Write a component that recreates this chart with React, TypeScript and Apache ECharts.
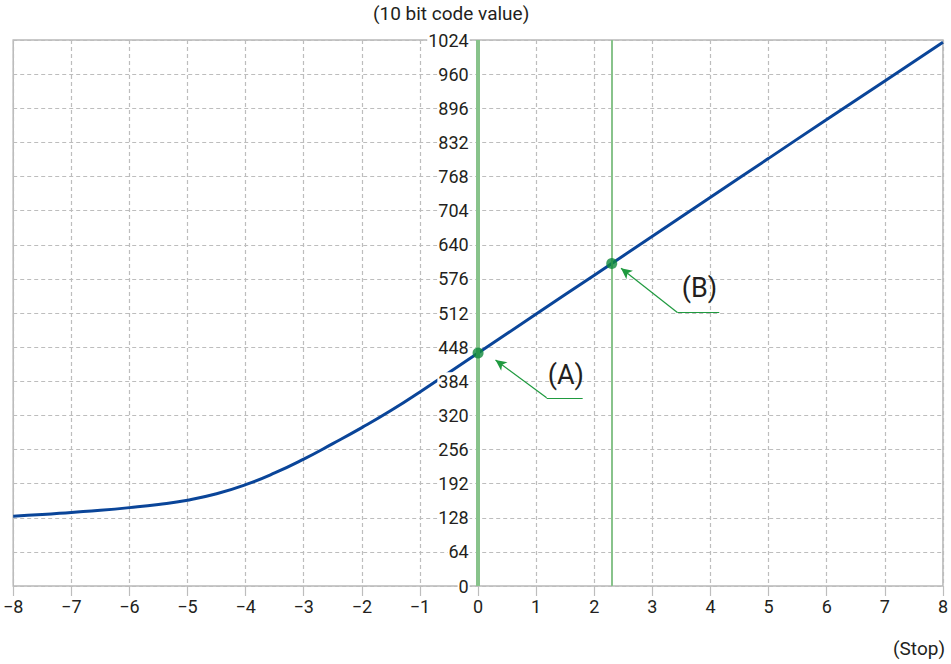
import React, { useEffect, useRef } from "react";
import * as echarts from "echarts";

// Exposure in stops relative to 18% grey
const stops = [-8, -7.5, -7, -6.5, -6, -5.5, -5, -4.5, -4, -3.5, -3, -2.5, -2, -1.5, -1, 0, 1, 2, 3, 4, 5, 6, 7, 8];
// 10-bit code values
const codeValues = [131, 134, 138, 142, 147, 153, 161, 173, 190, 212, 238, 267, 297, 329, 364, 437, 510, 583, 656, 729, 802, 875, 947, 1020];

// Highlighted points (A) and (B)
const markedStops = [0, 2.3];
const markedCodes = [437, 605];
const markedNames = ["(A)", "(B)"];

// Annotation anchors in data space: [labelX, labelY, elbowStartX, elbowEndX, elbowY, tipX, tipY]
const annotA = [1.51, 396, 1.8, 1.18, 353, 0.3, 424];
const annotB = [3.81, 559, 4.15, 3.43, 513, 2.46, 596];

const xTicks = { min: -8, max: 8, interval: 1 };
const yTicks = { min: 0, max: 1024, interval: 64 };

const FONT = "Roboto, 'Noto Sans', sans-serif";
const TEXT = "#231f20";
const GRID_GRAY = "#bdbdbd";
const BLUE = "#0a4599";
const LIGHT_GREEN = "#88c38b";
const DARK_GREEN = "#10893c";
const ARROW_GREEN = "#1f9a3f";

const GRID_LEFT = 10;
const GRID_RIGHT = 6;

export default function App() {
  const ref = useRef<HTMLDivElement>(null);

  useEffect(() => {
    if (!ref.current) return;
    const chart = echarts.init(ref.current, undefined, { renderer: "svg" });

    const curve = stops.map((s, i) => [s, codeValues[i]]);
    const points = markedStops.map((s, i) => [s, markedCodes[i]]);
    const annots = [annotA, annotB];

    const arrowLines: any[] = [];
    const labelPoints: any[] = [];
    annots.forEach((a, i) => {
      arrowLines.push([
        { coord: [a[2], a[4]], symbol: "none" },
        { coord: [a[3], a[4]], symbol: "none" },
      ]);
      arrowLines.push([
        { coord: [a[3], a[4]], symbol: "none" },
        { coord: [a[5], a[6]], symbol: "arrow" },
      ]);
      labelPoints.push({
        coord: [a[0], a[1]],
        label: { formatter: markedNames[i] },
      });
    });

    // place the labelled y axis at stop 0
    const plotWidth = 951 - GRID_LEFT - GRID_RIGHT;
    const zeroOffset = -((0 - xTicks.min) / (xTicks.max - xTicks.min)) * plotWidth;

    chart.setOption({
      animation: false,
      backgroundColor: "#ffffff",
      textStyle: { fontFamily: FONT },
      title: [
        {
          text: "(10 bit code value)",
          left: 373,
          top: 4,
          padding: 0,
          textStyle: { fontSize: 19, fontWeight: "normal", color: TEXT, fontFamily: FONT },
        },
        {
          text: "(Stop)",
          right: 6,
          top: 639,
          padding: 0,
          textStyle: { fontSize: 19, fontWeight: "normal", color: TEXT, fontFamily: FONT },
        },
      ],
      grid: {
        left: GRID_LEFT,
        right: GRID_RIGHT,
        top: 40,
        bottom: 78,
        show: true,
        borderColor: "#b8b8b8",
        borderWidth: 1.5,
      },
      xAxis: {
        type: "value",
        min: xTicks.min,
        max: xTicks.max,
        interval: xTicks.interval,
        axisLine: { show: false, onZero: false },
        axisTick: { show: true, length: 10, lineStyle: { color: GRID_GRAY, width: 1.2 } },
        axisLabel: {
          margin: 11,
          fontSize: 18,
          color: TEXT,
          fontFamily: FONT,
          formatter: (v: number) => String(v).replace("-", "\u2212"),
        },
        splitLine: { show: true, lineStyle: { color: GRID_GRAY, type: [4, 3], width: 1.2 } },
      },
      yAxis: [
        {
          type: "value",
          min: yTicks.min,
          max: yTicks.max,
          interval: yTicks.interval,
          axisLine: { show: false, onZero: false },
          axisTick: { show: false },
          axisLabel: { show: false },
          splitLine: { show: true, lineStyle: { color: GRID_GRAY, type: [4, 3], width: 1.2 } },
          z: 0,
        },
        {
          type: "value",
          position: "left",
          offset: zeroOffset,
          min: yTicks.min,
          max: yTicks.max,
          interval: yTicks.interval,
          axisLine: { show: false, onZero: false },
          axisTick: { show: false },
          splitLine: { show: false },
          axisLabel: {
            margin: 11,
            fontSize: 18,
            color: TEXT,
            fontFamily: FONT,
            backgroundColor: "#ffffff",
            padding: [0, 1, 0, 1],
            formatter: (v: number) => String(v),
          },
          z: 5,
        },
      ],
      series: [
        {
          type: "line",
          data: [],
          yAxisIndex: 0,
          z: 2,
          silent: true,
          markLine: {
            silent: true,
            symbol: ["none", "none"],
            label: { show: false },
            data: [
              { xAxis: markedStops[0], lineStyle: { color: LIGHT_GREEN, width: 4, type: "solid" } },
              { xAxis: markedStops[1], lineStyle: { color: LIGHT_GREEN, width: 2, type: "solid" } },
            ],
          },
        },
        {
          type: "line",
          data: curve,
          yAxisIndex: 0,
          smooth: true,
          showSymbol: false,
          symbol: "none",
          lineStyle: { color: BLUE, width: 3 },
          z: 3,
          silent: true,
        },
        {
          type: "scatter",
          data: points,
          yAxisIndex: 0,
          symbol: "circle",
          symbolSize: 11,
          itemStyle: { color: DARK_GREEN },
          z: 6,
          silent: true,
          markLine: {
            silent: true,
            symbol: ["none", "arrow"],
            symbolSize: [8, 11],
            label: { show: false },
            lineStyle: { color: ARROW_GREEN, width: 1.2, type: "solid" },
            data: arrowLines,
          },
          markPoint: {
            silent: true,
            symbol: "circle",
            symbolSize: 1,
            itemStyle: { color: "rgba(0,0,0,0)" },
            label: {
              show: true,
              position: "inside",
              fontSize: 27,
              color: TEXT,
              fontFamily: FONT,
            },
            data: labelPoints,
          },
        },
      ],
    });

    return () => chart.dispose();
  }, []);

  return (
    <div
      ref={ref}
      style={{ position: "absolute", left: 0, top: 0, width: 951, height: 664 }}
    />
  );
}
